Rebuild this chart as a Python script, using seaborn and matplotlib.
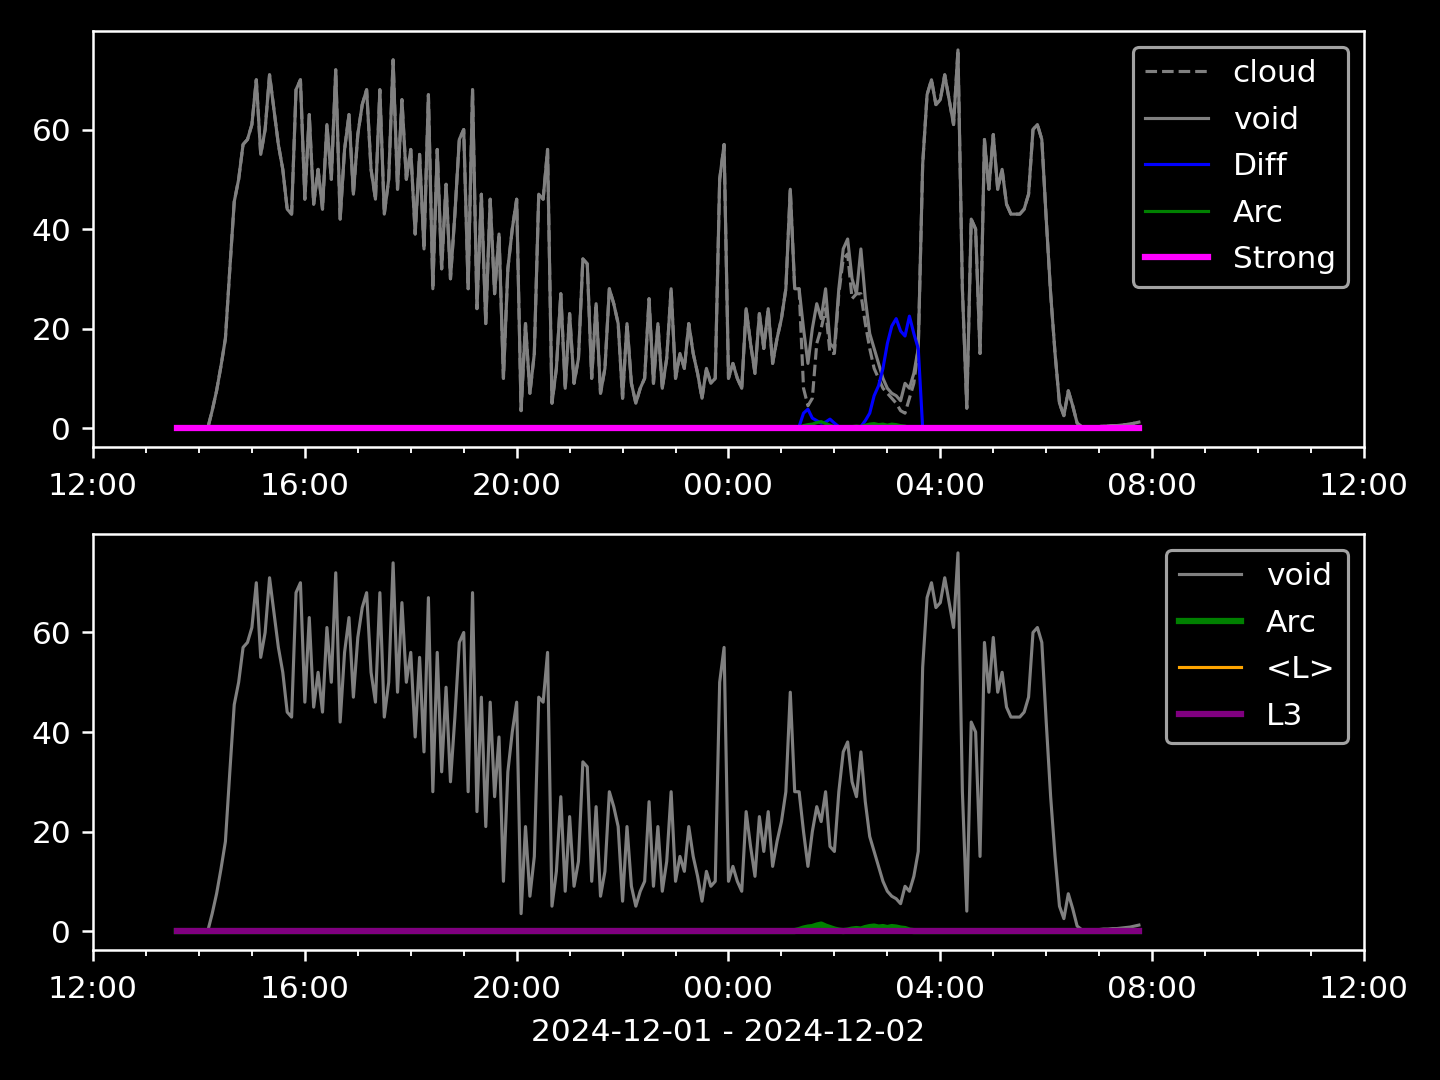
import numpy as np
import pandas as pd
import matplotlib
matplotlib.use("Agg")
import matplotlib.pyplot as plt
import matplotlib.dates as mdates
import seaborn as sns

# 5-minute samples from 2024-12-01 13:35 to 2024-12-02 07:45
t_start = "2024-12-01 13:35"
t_end = "2024-12-02 07:45"

void = [
    0, 0, 0, 0, 0, 0, 0, 0, 3.5, 7.5, 12.5, 18,
    32, 45.5, 50, 57, 58, 61, 70, 55, 60, 71, 64, 57,
    52, 44, 43, 68, 70, 46, 63, 45, 52, 44, 61, 50,
    72, 42, 56, 63, 47, 59, 65, 68, 52, 46, 68, 43,
    50, 74, 48, 66, 50, 56, 39, 55, 36, 67, 28, 56,
    32, 49, 30, 43, 58, 60, 28, 68, 24, 47, 21, 46,
    27, 39, 10, 32, 40, 46, 3.5, 21, 7, 15, 47, 46,
    56, 5, 12, 27, 8, 23, 9, 14, 34, 33, 10, 25,
    7, 12, 28, 25, 21, 6, 21, 9, 5, 8, 10, 26,
    9, 21, 8, 14, 28, 10, 15, 12, 21, 15, 11, 6,
    12, 9, 10, 50, 57, 10, 13, 10, 8, 24, 17, 11,
    23, 16, 24, 13, 18, 22, 28, 48, 28, 28, 20, 13,
    20, 25, 22, 28, 17, 16, 28, 36, 38, 30, 27, 36,
    26, 19, 16, 13, 10, 8, 7, 6.5, 5.5, 9, 8, 11,
    16, 53, 67, 70, 65, 66, 71, 66, 61, 76, 28, 4,
    42, 40, 15, 58, 48, 59, 48, 52, 45, 43, 43, 43,
    44, 47, 60, 61, 58, 42, 27, 15, 5, 2.5, 7.5, 4.5,
    1, 0.3, 0.2, 0.2, 0.3, 0.3, 0.4, 0.4, 0.5, 0.5, 0.6, 0.7,
    0.8, 1.0, 1.2,
]

# where cloud departs from void (elsewhere it equals void)
cloud_from = "2024-12-02 01:20"
cloud_window = [28, 8, 4.5, 6, 17, 20, 24, 15, 15, 27, 34, 35, 26, 27,
                27, 21, 16, 12, 10, 8, 7, 6, 5, 3.5, 3, 6, 9, 16]

diff_from = "2024-12-02 01:20"
diff_window = [0.3, 3, 3.8, 2, 1.5, 1, 1.2, 1.8, 1, 0.3, 0, 0, 0, 0, 0.3,
               1.5, 3, 6.5, 8.5, 12, 17, 20.5, 22, 19.5, 18.5, 22.5, 19, 16, 0]

arc_from = "2024-12-02 01:20"
arc_window = [0.2, 0.5, 0.7, 0.8, 1.1, 1.3, 0.9, 0.6, 0.3, 0.1, 0, 0.1, 0.3,
              0.4, 0.3, 0.6, 0.8, 0.9, 0.7, 0.8, 0.6, 0.8, 0.7, 0.5, 0.4, 0.1]

# 1. Build the table
times = pd.date_range(t_start, t_end, freq="5min")
df = pd.DataFrame({"time": times, "void": void})
for col in ["cloud", "Diff", "Arc", "Strong", "L", "L3"]:
    df[col] = df["void"] if col == "cloud" else 0.0


def put_window(col, start, values):
    i0 = times.get_loc(pd.Timestamp(start))
    df.loc[i0:i0 + len(values) - 1, col] = values


put_window("cloud", cloud_from, cloud_window)
put_window("Diff", diff_from, diff_window)
put_window("Arc", arc_from, arc_window)

# 2. Style
plt.style.use("dark_background")
fig, axes = plt.subplots(2, 1, figsize=(6.4, 4.8), dpi=225)
fig.subplots_adjust(left=0.0646, right=0.9472, top=0.9713, bottom=0.1204, hspace=0.209)

# --- Top panel ---
ax = axes[0]
sns.lineplot(x="time", y="cloud", data=df, ax=ax, color="gray", lw=1, linestyle="--", label="cloud")
sns.lineplot(x="time", y="void", data=df, ax=ax, color="gray", lw=1, label="void")
sns.lineplot(x="time", y="Diff", data=df, ax=ax, color="blue", lw=1, label="Diff")
sns.lineplot(x="time", y="Arc", data=df, ax=ax, color="green", lw=1, label="Arc")
sns.lineplot(x="time", y="Strong", data=df, ax=ax, color="magenta", lw=2, label="Strong")
ax.legend(loc="upper right", labelspacing=0.56)

# --- Bottom panel ---
ax = axes[1]
sns.lineplot(x="time", y="void", data=df, ax=ax, color="gray", lw=1, label="void")
sns.lineplot(x="time", y="Arc", data=df, ax=ax, color="green", lw=2, label="Arc")
sns.lineplot(x="time", y="L", data=df, ax=ax, color="orange", lw=1, label="<L>")
sns.lineplot(x="time", y="L3", data=df, ax=ax, color="purple", lw=2, label="L3")
ax.legend(loc="upper right", labelspacing=0.56)

for ax in axes:
    ax.set_xlim(pd.Timestamp("2024-12-01 12:00"), pd.Timestamp("2024-12-02 12:00"))
    ax.xaxis.set_major_locator(mdates.HourLocator(byhour=[0, 4, 8, 12, 16, 20]))
    ax.xaxis.set_minor_locator(mdates.HourLocator())
    ax.xaxis.set_major_formatter(mdates.DateFormatter("%H:%M"))
    ax.tick_params(axis="x", which="major", pad=4.5)
    ax.set_ylabel("")
    ax.set_xlabel("")

axes[1].set_xlabel("2024-12-01 - 2024-12-02", labelpad=4.6)

plt.savefig("out.png", dpi=225)
